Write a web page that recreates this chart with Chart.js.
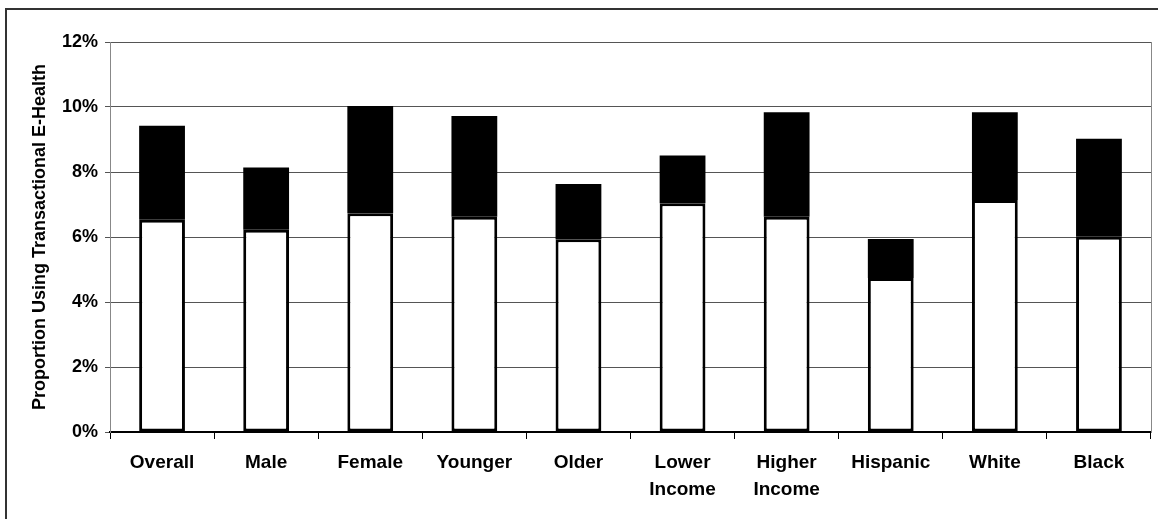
<!DOCTYPE html>
<html>
<head>
<meta charset="utf-8">
<script src="https://cdn.jsdelivr.net/npm/chart.js@4"></script>
<style>
  html, body { margin: 0; padding: 0; background: #fff; }
  #wrap { position: relative; width: 1158px; height: 519px; overflow: hidden; }
  #frame { position: absolute; left: 5px; top: 8px; width: 1170px; height: 530px;
           border: 2px solid #333; pointer-events: none; }
</style>
</head>
<body>
<div id="wrap">
  <canvas id="chart" width="1158" height="519"></canvas>
  <div id="frame"></div>
</div>
<script>
const categories = ["Overall", "Male", "Female", "Younger", "Older", ["Lower", "Income"],
  ["Higher", "Income"], "Hispanic", "White", "Black"];
// lower (white) segment and upper (black) segment, in percent
const baseValues = [6.53, 6.22, 6.73, 6.62, 5.93, 7.04, 6.62, 4.74, 7.14, 6.01];
const topValues = [2.89, 1.92, 3.30, 3.10, 1.70, 1.47, 3.22, 1.20, 2.70, 3.01];
const yTicks = [0, 2, 4, 6, 8, 10, 12];

const family = "'Liberation Sans', Arial, sans-serif";

new Chart(document.getElementById("chart"), {
  type: 'bar',
  data: {
    labels: categories,
    datasets: [
      {
        data: baseValues,
        backgroundColor: "#ffffff",
        borderColor: "#000000",
        borderWidth: 3,
        borderSkipped: false,
        barPercentage: 0.44,
        categoryPercentage: 1
      },
      {
        data: topValues,
        backgroundColor: "#000000",
        borderWidth: 0,
        barPercentage: 0.44,
        categoryPercentage: 1
      }
    ]
  },
  options: {
    responsive: false,
    animation: false,
    layout: { padding: { top: 42, right: 0, bottom: 0, left: 0 } },
    plugins: {
      legend: { display: false },
      tooltip: { enabled: false }
    },
    scales: {
      x: {
        stacked: true,
        offset: true,
        afterFit: s => { s.height = 87; },
        grid: { drawOnChartArea: false, drawTicks: true, tickLength: 7, color: "#000", offset: true },
        border: { color: "#000", width: 2 },
        ticks: { color: "#000", font: { family: family, weight: 'bold', size: 19, lineHeight: 1.42 }, padding: 10 }
      },
      y: {
        stacked: true,
        min: 0,
        max: 12,
        afterBuildTicks: s => { s.ticks = yTicks.map(v => ({ value: v })); },
        afterFit: s => { s.width = 110; },
        grid: { color: "#555", tickLength: 5 },
        border: { color: "#888", width: 1 },
        ticks: { color: "#000", font: { family: family, weight: 'bold', size: 18 }, padding: 7, callback: v => v + '%' },
        title: {
          display: true,
          text: "Proportion Using Transactional E-Health",
          color: "#000",
          font: { family: family, weight: 'bold', size: 18 },
          padding: { top: 29, bottom: 0 }
        }
      },
      yRight: {
        position: 'right',
        min: 0,
        max: 12,
        afterFit: s => { s.width = 7; },
        grid: { display: false },
        ticks: { display: false },
        border: { color: "#888", width: 1 }
      }
    }
  }
});
</script>
</body>
</html>
